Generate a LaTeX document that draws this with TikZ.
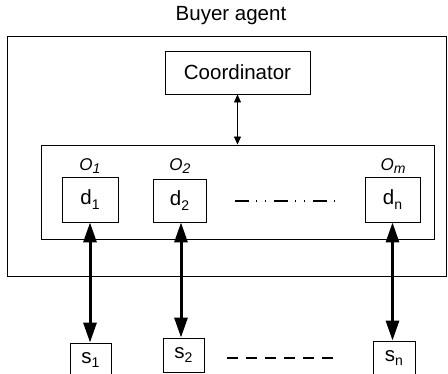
\documentclass[tikz,border=0pt]{standalone}
\usepackage{fontspec}
\setmainfont{Liberation Sans}
\usetikzlibrary{arrows.meta}
\newcommand{\sbs}[1]{\raisebox{-0.22em}{\fontsize{14}{14}\selectfont #1}}
\begin{document}
\begin{tikzpicture}[x=1pt,y=-1pt,
  box/.style={draw, line width=0.9pt, inner sep=0pt, font=\fontsize{20.5}{20.5}\selectfont},
  lbl/.style={inner sep=0pt, font=\fontsize{20.5}{20.5}\selectfont},
  olbl/.style={inner sep=0pt, font=\fontsize{17}{17}\selectfont\itshape},
  thin arrow/.style={line width=0.8pt, {Triangle[length=8pt,width=7pt]}-{Triangle[length=8pt,width=7pt]}},
  thick arrow/.style={line width=3pt, {Triangle[length=20pt,width=13pt]}-{Triangle[length=20pt,width=13pt]}}]
\useasboundingbox (0,0) rectangle (448,374);
\node[lbl] (title) at (231,16) {Buyer agent};
\node[box, minimum width=439pt, minimum height=240pt] (outer) at (226.5,156) {};
\node[box, minimum width=145pt, minimum height=43pt] (coord) at (237.5,72.5) {Coordinator};
\node[box, minimum width=393pt, minimum height=94pt] (inner) at (237.5,192) {};
\draw[thin arrow] (coord.south) -- (coord.south |- inner.north);
\node[box, minimum width=56pt, minimum height=45pt] (d1) at (90,199.5) {d\sbs{1}};
\node[box, minimum width=53pt, minimum height=43pt] (d2) at (179.5,200.5) {d\sbs{2}};
\node[box, minimum width=55pt, minimum height=45pt] (dn) at (392.5,199.5) {d\sbs{n}};
\node[olbl] (o1) at (90,166) {O\sbs{1}};
\node[olbl] (o2) at (180,166) {O\sbs{2}};
\node[olbl] (om) at (393,166) {O\sbs{m}};
\coordinate (dd1) at (235,201);
\coordinate (dd2) at (336,201);
\draw[line width=1.6pt, dash pattern=on 14pt off 7pt on 1pt off 8pt on 1pt off 8pt] (dd1) -- (dd2);
\node[box, minimum width=41pt, minimum height=34pt] (s1) at (90.5,360) {s\sbs{1}};
\node[box, minimum width=41pt, minimum height=34pt] (s2) at (183.5,355) {s\sbs{2}};
\node[box, minimum width=42pt, minimum height=34pt] (sn) at (394,358) {s\sbs{n}};
\coordinate (sd1) at (227,358);
\coordinate (sd2) at (340,358);
\draw[line width=1.5pt, dash pattern=on 11pt off 8pt] (sd1) -- (sd2);
\draw[thick arrow] (d1.south) -- (d1.south |- s1.north);
\draw[thick arrow] ([xshift=1.5pt]d2.south) -- ([xshift=1.5pt]d2.south |- s2.north);
\draw[thick arrow] (dn.south) -- (dn.south |- sn.north);
\end{tikzpicture}
\end{document}
